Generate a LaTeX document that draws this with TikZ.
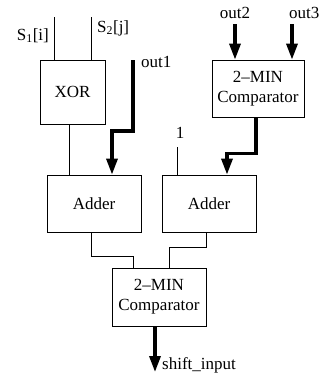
\documentclass[tikz,border=0pt]{standalone}
\usepackage{fontspec}
\setmainfont{Liberation Serif}
\usetikzlibrary{arrows.meta}

\tikzset{
    unitbox/.style={draw=black, fill=white, text=black, line width=0.8pt, rectangle, align=center, inner sep=0pt},
    wire/.style={draw=black, line width=0.8pt},
    bus/.style={draw=black, line width=3.3pt, -{Triangle[length=16pt, width=11pt]}},
    lbl/.style={inner sep=0pt, text=black}
}

\begin{document}
\begin{tikzpicture}[x=1pt, y=-1pt, every node/.style={font=\fontsize{17}{20}\selectfont}]
    \useasboundingbox (0,0) rectangle (320,375);

    % blocks
    \node[unitbox, minimum width=65pt, minimum height=64pt] (ndXor) at (72.5,92) {XOR};
    \node[unitbox, minimum width=92pt, minimum height=57pt] (ndCmpTop) at (258,88.5) {2--MIN\\Comparator};
    \node[unitbox, minimum width=94pt, minimum height=57pt] (ndAddLeft) at (94,203.5) {Adder};
    \node[unitbox, minimum width=94pt, minimum height=57pt] (ndAddRight) at (209,203.5) {Adder};
    \node[unitbox, minimum width=94pt, minimum height=58pt] (ndCmpBot) at (159,297) {2--MIN\\Comparator};

    % free ends
    \coordinate (cdS1) at (54,17);
    \coordinate (cdS2) at (91,17);
    \coordinate (cdOut1) at (133,60);
    \coordinate (cdOut2) at (235,24);
    \coordinate (cdOut3) at (292,24);
    \coordinate (cdOne) at (177,147);
    \coordinate (cdShift) at (155,372);

    % labels
    \node[lbl, anchor=base east] (lbS1) at (49,40) {S\textsubscript{1}[i]};
    \node[lbl, anchor=base west] (lbS2) at (97,32) {S\textsubscript{2}[j]};
    \node[lbl, anchor=base west] (lbOut1) at (141,67) {out1};
    \node[lbl, anchor=base] (lbOut2) at (235,18) {out2};
    \node[lbl, anchor=base east] (lbOut3) at (319.5,18) {out3};
    \node[lbl, anchor=base] (lbOne) at (180,138) {1};
    \node[lbl, anchor=base west] (lbShift) at (162,369) {shift\_input};

    % thin wires
    \draw[wire] (cdS1) -- (cdS1 |- ndXor.north);
    \draw[wire] (cdS2) -- (cdS2 |- ndXor.north);
    \draw[wire] ([xshift=-3.5pt]ndXor.south) -- ([xshift=-3.5pt]ndXor.south |- ndAddLeft.north);
    \draw[wire] (cdOne) -- (cdOne |- ndAddRight.north);
    \draw[wire] ([xshift=-3pt]ndAddLeft.south) -- ++(0,24) -| ([xshift=-26pt]ndCmpBot.north);
    \draw[wire] ([xshift=-3pt]ndAddRight.south) -- ++(0,15) -| ([xshift=10pt]ndCmpBot.north);

    % thick buses
    \draw[bus] (cdOut1) -- ++(0,71) -| ([xshift=18pt]ndAddLeft.north);
    \draw[bus] (cdOut2) -- (cdOut2 |- ndCmpTop.north);
    \draw[bus] (cdOut3) -- (cdOut3 |- ndCmpTop.north);
    \draw[bus] ([xshift=-2pt]ndCmpTop.south) -- ++(0,36) -| ([xshift=18pt]ndAddRight.north);
    \draw[bus] (ndCmpBot.south -| cdShift) -- (cdShift);
\end{tikzpicture}
\end{document}
